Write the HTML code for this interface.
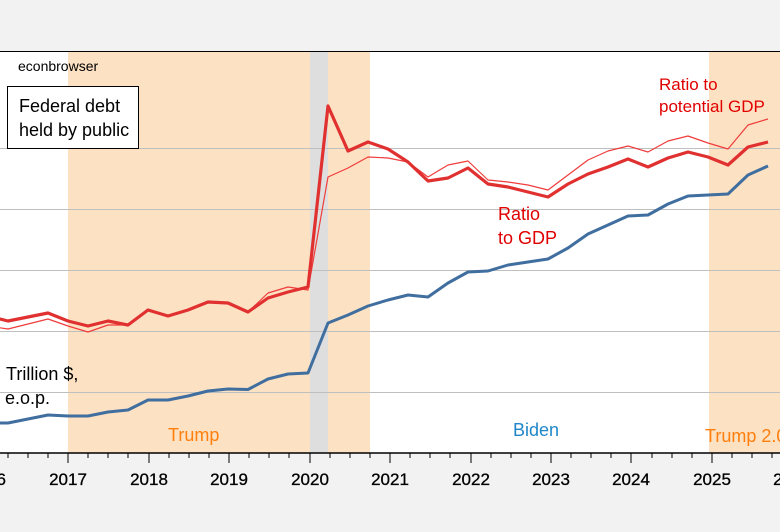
<!DOCTYPE html>
<html><head><meta charset="utf-8"><style>
body{margin:0;background:#f2f2f2;}
svg{display:block;font-family:"Liberation Sans",Arial,sans-serif;}
</style></head><body>
<svg width="780" height="532" viewBox="0 0 780 532">
<rect x="0" y="0" width="780" height="532" fill="#f2f2f2"/>
<rect x="0" y="51" width="780" height="402" fill="#fff"/>
<rect x="68" y="51" width="242" height="402" fill="#fde1c3"/>
<rect x="310" y="51" width="18" height="402" fill="#dedede"/>
<rect x="328" y="51" width="42" height="402" fill="#fde1c3"/>
<rect x="709" y="51" width="71" height="402" fill="#fde1c3"/>
<g stroke="#bfbfbf" stroke-width="1">
<line x1="0" y1="148.5" x2="780" y2="148.5"/><line x1="0" y1="209.5" x2="780" y2="209.5"/>
<line x1="0" y1="270.5" x2="780" y2="270.5"/><line x1="0" y1="331.5" x2="780" y2="331.5"/>
<line x1="0" y1="392.5" x2="780" y2="392.5"/></g>
<line x1="0" y1="51.5" x2="780" y2="51.5" stroke="#000" stroke-width="1"/>
<polyline fill="none" stroke="#3f6e9f" stroke-width="3" stroke-linejoin="round" points="-12,423 8,423 28,419 48,415 68,416 88,416 108,412 128,410 148,400 168,400 188,396 208,391 228,389 248,389.5 268,379 288,374 308,373 328,323 348,315 368,306 388,300 408,295 428,297 448,283 468,272 488,271 508,265 528,262 548,259 568,248 588,234 608,225 628,216 648,215 668,204 688,196 708,195 728,194 748,175 768,166"/>
<polyline fill="none" stroke="#f03c3c" stroke-width="1.2" stroke-linejoin="round" points="-12,326 8,329 28,324 48,319 68,326 88,332 108,325 128,325 148,310 168,316 188,310 208,302 228,303 248,312 268,293 288,287 308,290 328,177 348,168 368,157 388,158 408,162 428,177 448,165 468,161 488,180 508,182 528,185 548,190 568,175 588,160 608,151 628,146 648,152 668,141 688,136 708,143 728,149 748,125 768,119"/>
<polyline fill="none" stroke="#e03030" stroke-width="3.2" stroke-linejoin="round" points="-12,316 8,321 28,317 48,313 68,321 88,326 108,321 128,325 148,310 168,316 188,310 208,302 228,303 248,312 268,298 288,292 308,287 328,106 348,151 368,142 388,149 408,162 428,181 448,178 468,168 488,184 508,187 528,192 548,197 568,184 588,174 608,167 628,159 648,167 668,158 688,152 708,157 728,165 748,147 768,142"/>
<line x1="0" y1="453" x2="780" y2="453" stroke="#000" stroke-width="1.5"/>
<g stroke="#000" stroke-width="1">
<path d="M8,453v5M28,453v5M48,453v5M88,453v5M108,453v5M128,453v5M169,453v5M189,453v5M209,453v5M249,453v5M269,453v5M289,453v5M330,453v5M350,453v5M370,453v5M410,453v5M430,453v5M450,453v5M491,453v5M511,453v5M531,453v5M571,453v5M591,453v5M611,453v5M652,453v5M672,453v5M692,453v5M732,453v5M752,453v5M772,453v5"/>
<path d="M68,453v10M149,453v10M229,453v10M310,453v10M390,453v10M471,453v10M551,453v10M631,453v10M712,453v10"/>
</g>
<g font-size="17" text-anchor="middle" fill="#000" stroke="#000" stroke-width="0.3">
<text x="-13" y="485">2016</text><text x="68" y="485">2017</text><text x="149" y="485">2018</text><text x="229" y="485">2019</text><text x="310" y="485">2020</text><text x="390" y="485">2021</text><text x="471" y="485">2022</text><text x="551" y="485">2023</text><text x="631" y="485">2024</text><text x="712" y="485">2025</text><text x="792" y="485">2026</text>
</g>
<text x="18" y="71" font-size="14">econbrowser</text>
<rect x="7.5" y="86.5" width="131" height="62" fill="#fff" stroke="#000" stroke-width="1"/>
<text x="19" y="112" font-size="18">Federal debt</text>
<text x="19" y="136" font-size="18">held by public</text>
<text x="6" y="380" font-size="18">Trillion $,</text>
<text x="5" y="404" font-size="18">e.o.p.</text>
<text x="168" y="441" font-size="18" fill="#ff7f0e">Trump</text>
<text x="513" y="436" font-size="18" fill="#1f86c8">Biden</text>
<text x="705" y="442" font-size="18" fill="#ff7f0e">Trump 2.0</text>
<text x="498" y="220" font-size="18" fill="#e00000">Ratio</text>
<text x="498" y="244" font-size="18" fill="#e00000">to GDP</text>
<text x="659" y="90" font-size="17" fill="#e00000">Ratio to</text>
<text x="659" y="112" font-size="17" fill="#e00000">potential GDP</text>
</svg>
</body></html>
